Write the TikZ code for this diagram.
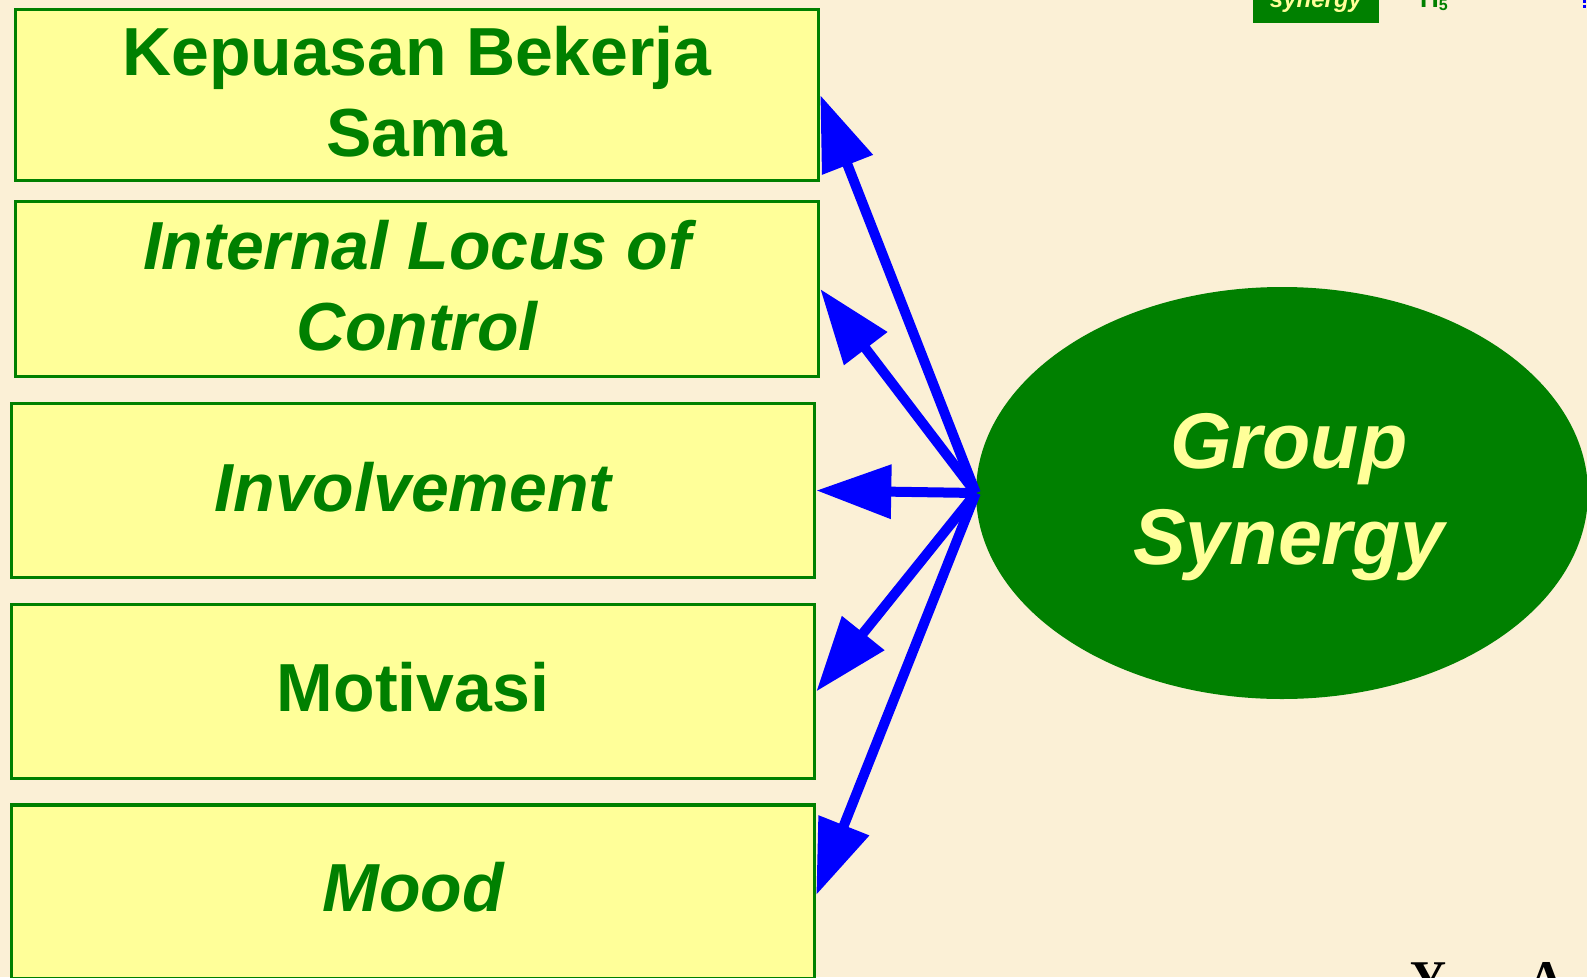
\documentclass[tikz,border=0pt]{standalone}
\usepackage{fontspec}
\setmainfont{Liberation Sans}
\setsansfont{Liberation Sans}
\newfontfamily\serifface{Liberation Serif}
\usetikzlibrary{shapes.geometric,arrows.meta}
\definecolor{paper}{RGB}{251,240,214}
\definecolor{boxfill}{RGB}{255,255,153}
\definecolor{leafgreen}{RGB}{0,128,0}
\definecolor{paleyellow}{RGB}{255,255,153}
\tikzset{
  factor/.style={draw=leafgreen, line width=3.5pt, fill=boxfill, rectangle,
    minimum width=803pt, inner sep=0pt},
  factorlabel/.style={text=leafgreen, align=center, inner sep=0pt,
    font=\fontsize{68}{81}\selectfont\bfseries},
  slanted/.style={font=\fontsize{68}{81}\selectfont\bfseries\itshape},
  latent/.style={ellipse, fill=leafgreen, minimum width=612pt, minimum height=412pt,
    inner sep=0pt},
  latentlabel/.style={text=paleyellow, align=center, inner sep=0pt,
    font=\fontsize{79}{96}\selectfont\bfseries\itshape},
  loading/.style={draw=blue, line width=10pt,
    -{Triangle[length=75pt,width=52pt]}}
}
\begin{document}
\begin{tikzpicture}[x=1pt,y=-1pt]
  \fill[paper] (0,0) rectangle (1587,977);
  \useasboundingbox (0,0) rectangle (1587,977);

  % indicator boxes
  \node[factor, minimum height=171pt] (b1) at (417,95) {};
  \node[factor, minimum height=175pt] (b2) at (417,289) {};
  \node[factor, minimum height=174pt] (b3) at (413,490.5) {};
  \node[factor, minimum height=174pt] (b4) at (413,691.5) {};
  \node[factor, minimum height=174pt] (b5) at (413,892) {};

  \node[factorlabel] (t1) at ([yshift=3pt]b1.center) {Kepuasan Bekerja\\Sama};
  \node[factorlabel, slanted] (t2) at ([yshift=3pt]b2.center) {Internal Locus of\\Control};
  \node[factorlabel, slanted] (t3) at ([yshift=3pt]b3.center) {Involvement};
  \node[factorlabel] (t4) at ([yshift=4pt]b4.center) {Motivasi};
  \node[factorlabel, slanted] (t5) at ([yshift=5pt]b5.center) {Mood};

  % latent construct
  \node[latent] (gs) at (1282,493) {};
  \node[latentlabel] (gslabel) at (1289,497) {Group\\Synergy};

  % loadings
  \draw[loading] (gs.west) -- (b1.east);
  \draw[loading] (gs.west) -- (b2.east);
  \draw[loading] (gs.west) -- (b3.east);
  \draw[loading] (gs.west) -- (b4.east);
  \draw[loading] (gs.west) -- ([yshift=-3pt]b5.east);

  % fragments along the top edge
  \fill[leafgreen] (1253,-40) rectangle (1379,23);
  \node[anchor=base, text=paleyellow, font=\fontsize{24}{28}\selectfont\bfseries\itshape, inner sep=0pt] (syn) at (1316,7) {synergy};
  \node[anchor=base west, text=leafgreen, font=\fontsize{26}{30}\selectfont\bfseries, inner sep=0pt] (h5) at (1420,7) {H\raisebox{-3pt}{\fontsize{16}{18}\selectfont 5}};
  \draw[blue, line width=2.4pt, dash pattern=on 3pt off 1.5pt] (1584.5,0) -- (1584.5,8);

  % fragments along the bottom edge
  \node[anchor=base west, font=\serifface\bfseries\fontsize{50}{60}\selectfont, inner sep=0pt] (ylab) at (1410,995) {Y};
  \node[anchor=base west, font=\serifface\bfseries\fontsize{50}{60}\selectfont, inner sep=0pt] (alab) at (1528,995) {A};
\end{tikzpicture}
\end{document}
